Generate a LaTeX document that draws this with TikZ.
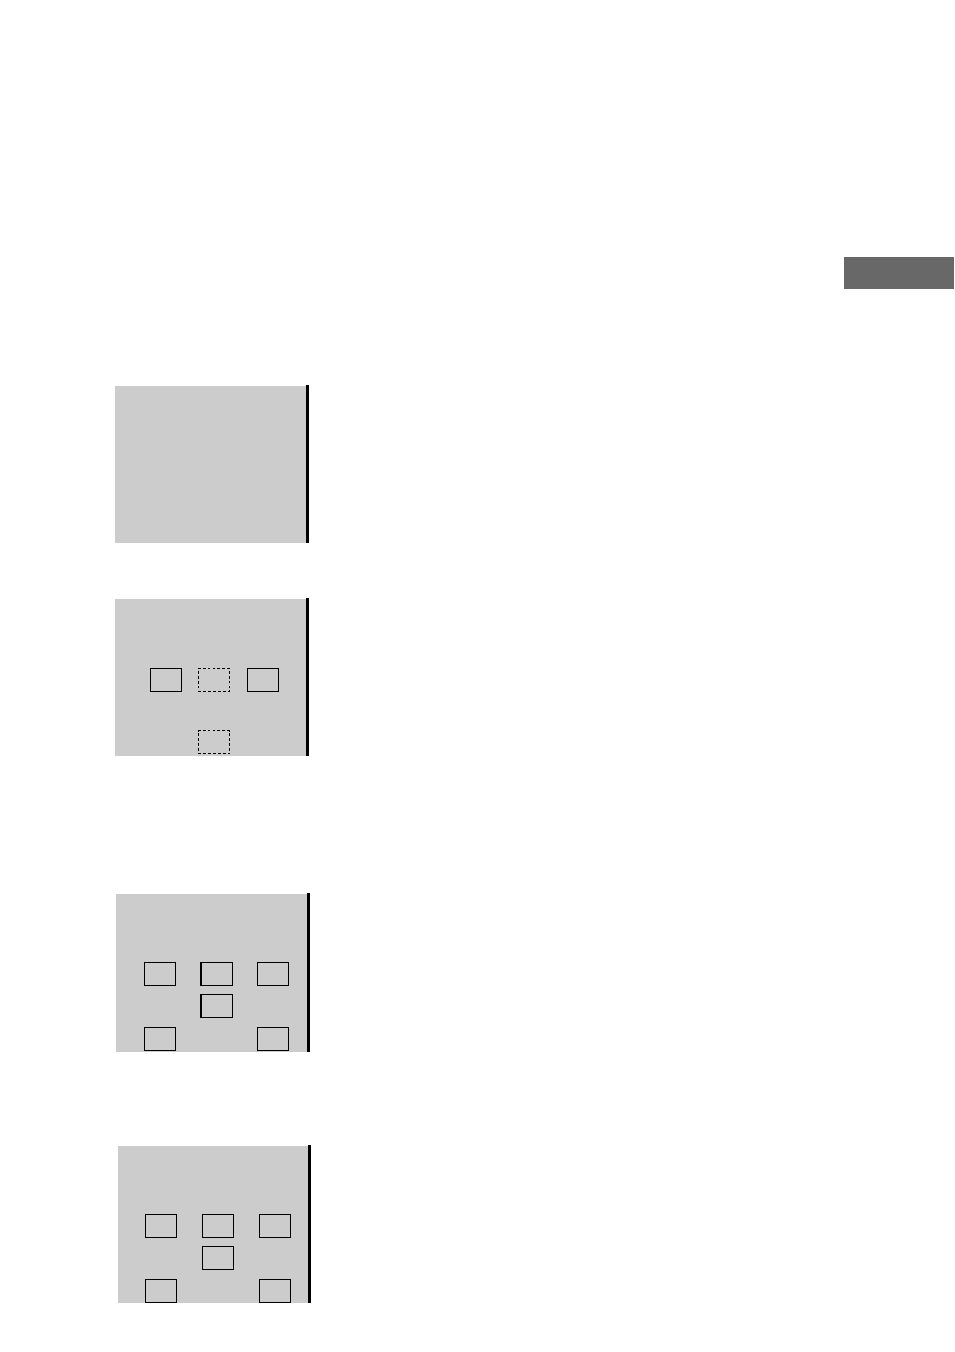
\documentclass[tikz,border=0pt]{standalone}
\usepackage{xcolor}
\usepackage{tikz}
\usetikzlibrary{positioning}
\definecolor{panelgray}{RGB}{204, 204, 204}
\definecolor{tabgray}{RGB}{104, 104, 104}
\tikzstyle{panel} = [
    fill=panelgray
]
\tikzstyle{edgebar} = [
    line width=1.4pt,
    color=black
]
\tikzstyle{slot} = [
    rectangle,
    draw=black,
    line width=0.6pt,
    inner sep=0pt,
    outer sep=0pt,
    minimum width=0.63cm,
    minimum height=0.46cm
]
\tikzstyle{ghostslot} = [
    slot,
    dash pattern=on 1.6pt off 1.2pt
]
\begin{document}
\begin{tikzpicture}[x=0.02cm, y=-0.02cm]
        \useasboundingbox (0,0) rectangle (954,1352);
        % tab
        \fill[tabgray] (844,257) rectangle (954,289);

        % panel 1
        \fill[panel] (115,386) rectangle (306.5,543);
        \draw[edgebar] (307.5,385) -- (307.5,543);

        % panel 2
        \fill[panel] (115,599) rectangle (306,756);
        \draw[edgebar] (307.3,598) -- (307.3,756);
        \node[slot] (bl) at (166,679.8) {};
        \node[ghostslot] (bm) at (214,679.8) {};
        \node[slot] (br) at (263,679.8) {};
        \node[ghostslot] (bd) at (214,742) {};

        % panel 3
        \fill[panel] (116,894) rectangle (307.5,1052);
        \draw[edgebar] (308.6,893) -- (308.6,1052);
        \node[slot] (cl) at (160,973.8) {};
        \node[slot] (cm) at (216.7,973.8) {};
        \node[slot] (cr) at (273,973.8) {};
        \node[slot] (cc) at (216.7,1005.8) {};
        \node[slot] (cbl) at (160,1038.8) {};
        \node[slot] (cbr) at (273,1038.8) {};
        \draw[line width=1.3pt] (cm.north west) -- (cm.south west);
        \draw[line width=1.3pt] (cc.north west) -- (cc.south west);

        % panel 4
        \fill[panel] (118,1146) rectangle (308.5,1303);
        \draw[edgebar] (309.4,1145) -- (309.4,1303);
        \node[slot] (dl) at (161,1225.8) {};
        \node[slot] (dm) at (218,1225.8) {};
        \node[slot] (dr) at (275,1225.8) {};
        \node[slot] (dc) at (218,1257.8) {};
        \node[slot] (dbl) at (161,1290.8) {};
        \node[slot] (dbr) at (275,1290.8) {};
    \end{tikzpicture}
\end{document}
